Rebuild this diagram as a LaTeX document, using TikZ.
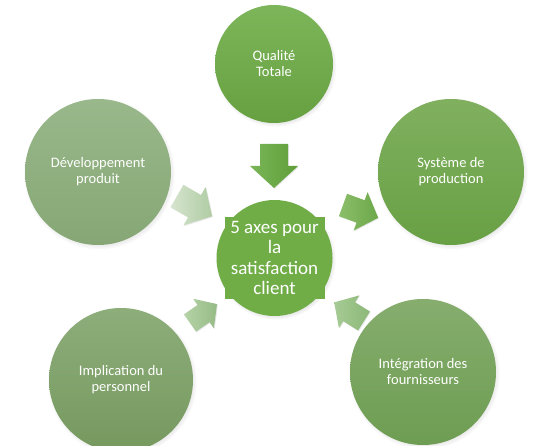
\documentclass[tikz,border=0pt]{standalone}
\usepackage{fontspec}
\setmainfont{Carlito}
\usetikzlibrary{shadows,fadings}

\definecolor{qualHaut}{HTML}{7DB65A}
\definecolor{qualBas}{HTML}{66A040}
\definecolor{devHaut}{HTML}{99B88B}
\definecolor{devBas}{HTML}{86A775}
\definecolor{sysHaut}{HTML}{80B05F}
\definecolor{sysBas}{HTML}{68A044}
\definecolor{centreVert}{HTML}{70AD47}
\definecolor{implHaut}{HTML}{8DAD7A}
\definecolor{implBas}{HTML}{76995F}
\definecolor{integHaut}{HTML}{86AD6E}
\definecolor{integBas}{HTML}{6D9D52}
\definecolor{hautClair}{HTML}{7AB658}
\definecolor{hautFonce}{HTML}{5E9E38}
\definecolor{devClair}{HTML}{D5E4CE}
\definecolor{devFonce}{HTML}{B0CCA4}
\definecolor{sysClair}{HTML}{8CBE6A}
\definecolor{sysFonce}{HTML}{6CA84A}
\definecolor{implClair}{HTML}{B5D3A7}
\definecolor{implFonce}{HTML}{96BB86}
\definecolor{integClair}{HTML}{A6CB95}
\definecolor{integFonce}{HTML}{8CB878}

\begin{document}
\begin{tikzpicture}[x=1pt, y=-1pt,
  axe/.style={circle, inner sep=0pt, align=center, text=white,
    font=\fontsize{14.5}{16}\selectfont,
    circular drop shadow={shadow xshift=1pt, shadow yshift=-1.5pt, shadow scale=1.04, opacity=0.35}},
  ombrefleche/.style={drop shadow={shadow xshift=0.8pt, shadow yshift=-0.8pt, opacity=0.2}}]
  \useasboundingbox (0,0) rectangle (553,446);

  % Les cinq axes
  \node[axe, minimum size=118, top color=qualHaut, bottom color=qualBas] (qualite) at (274,64) {Qualité\\Totale};
  \node[axe, minimum size=146, top color=devHaut, bottom color=devBas] (developpement) at (98,172) {Développement\\produit};
  \node[axe, minimum size=146, top color=sysHaut, bottom color=sysBas] (systeme) at (451,172) {Système de\\production};
  \node[axe, minimum size=144, top color=implHaut, bottom color=implBas] (implication) at (121,380) {Implication du\\personnel};
  \node[axe, minimum size=146, top color=integHaut, bottom color=integBas] (integration) at (423,372) {Intégration des\\fournisseurs};

  % Cercle central
  \node[axe, minimum size=116, fill=centreVert] (centre) at (274.5,258) {};
  \node[fill=centreVert, text=white, align=center, inner sep=0pt,
    minimum width=100, minimum height=82, font=\fontsize{19}{20.5}\selectfont]
    (centretexte) at (centre) {5 axes pour\\la\\satisfaction\\client};

  % Flèches vers le centre
  \foreach \x/\y/\ang/\s/\clair/\fonce in {274/144/-90/1/hautClair/hautFonce,
      177/196/-30/0.92/devClair/devFonce,
      343/205/-20/0.85/sysClair/sysFonce,
      190/323/35/0.75/implClair/implFonce,
      364/321/148/0.8/integClair/integFonce}
    \shade[ombrefleche, left color=\clair, right color=\fonce, shift={(\x,\y)}, rotate=\ang, scale=\s]
      (0,14) -- (22,14) -- (22,24) -- (44,0) -- (22,-24) -- (22,-14) -- (0,-14) -- cycle;
\end{tikzpicture}
\end{document}
